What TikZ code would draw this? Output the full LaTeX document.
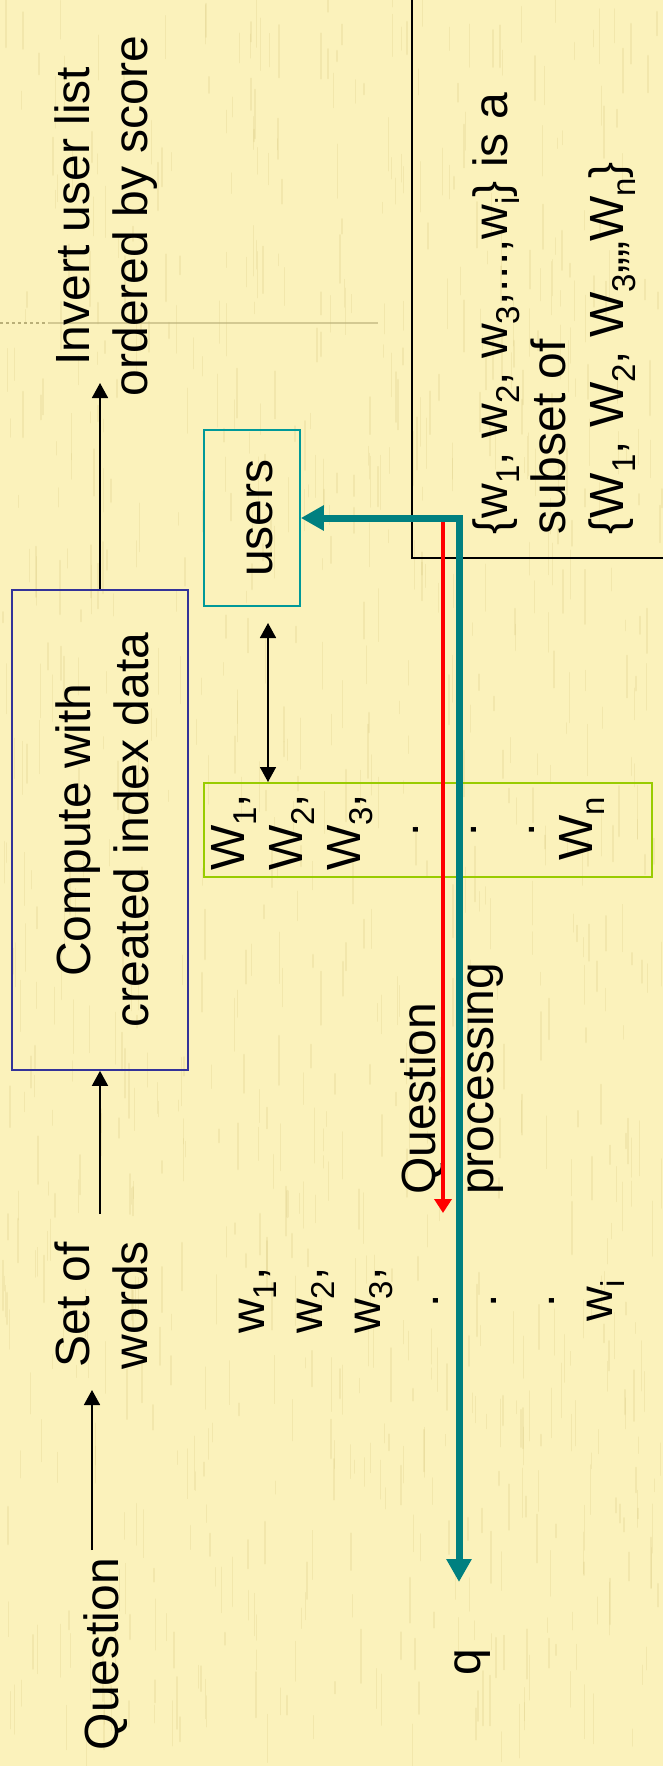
\documentclass[tikz,border=0pt]{standalone}
\usepackage{fontspec}
\setmainfont{Liberation Sans}
\usetikzlibrary{arrows.meta}

\definecolor{paper}{RGB}{251,242,187}
\definecolor{streakc}{RGB}{220,205,135}
\definecolor{boxblue}{RGB}{51,51,153}
\definecolor{boxteal}{RGB}{0,153,153}
\definecolor{boxgreen}{RGB}{153,204,0}
\definecolor{pathteal}{RGB}{0,128,128}
\definecolor{rulegray}{RGB}{185,175,120}

% lowered, smaller text for index subscripts
\newcommand{\sbs}[1]{\raisebox{-12pt}{\fontsize{33}{33}\selectfont #1}}

\tikzset{
  txt/.style={rotate=90, inner sep=0pt, font=\fontsize{48}{58}\selectfont, text=black},
  boxframe/.style={draw, line width=1.7pt, inner sep=0pt},
  arr/.style={line width=1.7pt, -{Triangle[width=16pt,length=15pt]}},
  dblarr/.style={line width=1.7pt, {Triangle[width=16pt,length=15pt]}-{Triangle[width=16pt,length=15pt]}},
  tealpath/.style={draw=pathteal, line width=7pt, {Triangle[width=24pt,length=23pt]}-{Triangle[width=24pt,length=23pt]}},
  redpath/.style={draw=red, line width=4.5pt, -{Triangle[width=17pt,length=14pt]}},
}

\begin{document}
\begin{tikzpicture}[x=1pt,y=-1pt]
\useasboundingbox (0,0) rectangle (663,1766);
\clip (0,0) rectangle (663,1766);

% paper background with fine vertical grain
\fill[paper] (0,0) rectangle (663,1766);
\pgfmathsetseed{12}
\foreach \k in {1,...,900}{
  \pgfmathsetmacro{\sx}{rnd*663}
  \pgfmathsetmacro{\sy}{rnd*1766-30}
  \pgfmathsetmacro{\sl}{10+rnd*45}
  \pgfmathsetmacro{\sw}{0.5+rnd*1.6}
  \draw[streakc, opacity=0.28, line width=\sw pt, line cap=round] (\sx,\sy) -- ++(0,\sl);
}

% faint rule near the top
\draw[rulegray, line width=1.2pt, dashed] (0,323) -- (48,323);
\draw[rulegray, line width=1.2pt, opacity=0.6] (48,323) -- (378,323);

% frames
\node[boxframe, draw=black, line width=1.8pt, minimum width=268pt, minimum height=568pt] (subsetbox) at (546,274) {};
\node[boxframe, draw=boxblue, minimum width=176pt, minimum height=480pt] (compute) at (100,830) {};
\node[boxframe, draw=boxteal, minimum width=96pt, minimum height=176pt] (users) at (252,518) {};
\node[boxframe, draw=boxgreen, line width=2pt, minimum width=448pt, minimum height=94pt] (wbox) at (428,830) {};

% texts
\node[txt, align=center] (invert) at (106.4,216) {\strut Invert user list\\ordered by score\strut};
\node[txt, align=center] (computetext) at (107.4,830) {\strut Compute with\\created index data\strut};
\node[txt, align=center] (setwords) at (106.4,1305) {\strut Set of\\words\strut};
\node[txt] (question) at (106.4,1654) {\strut Question};
\node[txt] (userstext) at (260.4,518) {\strut users};
\node[txt, align=left, anchor=west] (qproc) at (452.4,1195) {\strut Question\\processing\strut};
\node[txt, align=left, anchor=west] (subset) at (553.4,534.5)
  {\strut\{w\sbs{1}, w\sbs{2}, w\sbs{3},...,w\sbs{i}\} is a\\subset of\\\{W\sbs{1}, W\sbs{2}, W\sbs{3},,,,W\sbs{n}\}\strut};
\node[txt, align=left, anchor=west] (biglist) at (406.4,871)
  {\strut W\sbs{1},\\W\sbs{2},\\W\sbs{3},\\\hspace*{34pt}.\\\hspace*{34pt}.\\\hspace*{34pt}.\\\hspace*{10pt}W\sbs{n}\strut};
\node[txt, align=left, anchor=west] (smalllist) at (426.4,1334)
  {\strut w\sbs{1},\\w\sbs{2},\\w\sbs{3},\\\hspace*{26pt}.\\\hspace*{26pt}.\\\hspace*{26pt}.\\\hspace*{12pt}w\sbs{i}\strut};
\node[txt] (qlabel) at (468.4,1662) {\strut q};

% connector end points
\coordinate (invtip) at (100,383);
\coordinate (swtail) at (100,1214);
\coordinate (qtail) at (92,1550);
\coordinate (qhead) at (92,1390);
\coordinate (dtop) at (268,623);
\coordinate (tcorner) at (459,518);
\coordinate (qend) at (459,1582);
\coordinate (rtop) at (443,522);
\coordinate (rend) at (443,1213);

% connectors
\draw[arr] (compute.north) -- (invtip);
\draw[arr] (swtail) -- (compute.south);
\draw[arr] (qtail) -- (qhead);
\draw[dblarr] (dtop) -- (dtop |- wbox.north);
\draw[redpath] (rtop) -- (rend);
\draw[tealpath] (users.east) -- (tcorner) -- (qend);
\end{tikzpicture}
\end{document}
